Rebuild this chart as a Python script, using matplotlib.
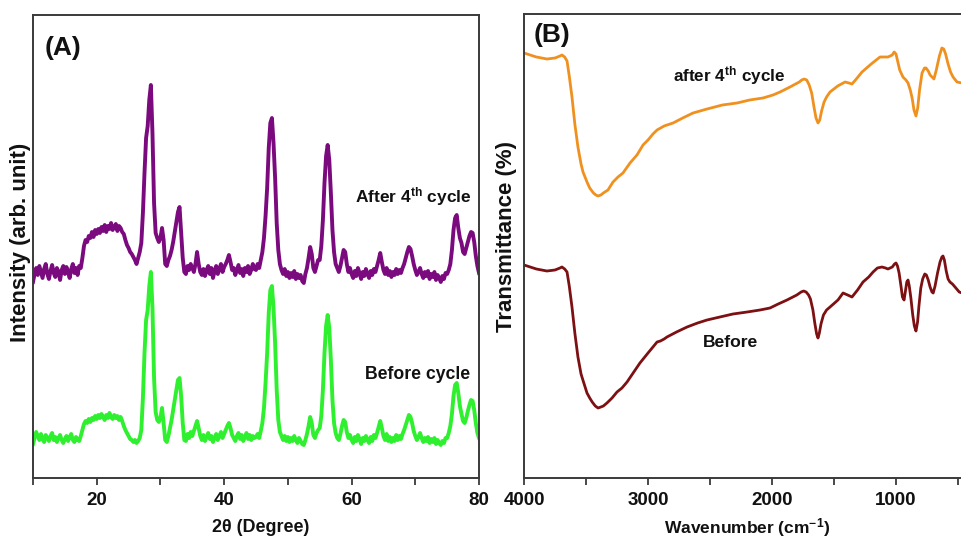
import numpy as np
import matplotlib
matplotlib.use("Agg")
import matplotlib.pyplot as plt

FONT = 'Liberation Sans'

plt.rcParams['mathtext.fontset'] = 'custom'
plt.rcParams['mathtext.rm'] = FONT + ':bold'
plt.rcParams['mathtext.it'] = FONT + ':bold'
plt.rcParams['mathtext.bf'] = FONT + ':bold'
plt.rcParams['mathtext.default'] = 'rm'

# ---------------- XRD data (panel A) ----------------
xrd_2theta = np.linspace(10, 80, 281)   # scan grid, 0.25 deg step
xrd_after = [
    196, 204, 210, 203, 212, 206, 200, 209, 214, 204, 199, 207, 213, 205, 201, 210, 206, 198, 208, 212,
    204, 211, 206, 200, 209, 214, 205, 210, 203, 212, 210, 220, 232, 238, 236, 242, 240, 246, 241, 248,
    244, 249, 245, 251, 247, 253, 246, 252, 249, 255, 248, 251, 254, 247, 252, 250, 246, 244, 238, 233,
    230, 226, 224, 221, 218, 214, 220, 226, 235, 265, 305, 340, 352, 378, 393, 345, 275, 245, 240, 236,
    240, 250, 238, 214, 212, 218, 222, 228, 236, 246, 256, 266, 271, 245, 220, 206, 204, 212, 208, 214,
    210, 206, 214, 226, 214, 206, 203, 209, 202, 208, 212, 204, 210, 200, 207, 212, 204, 209, 214, 206,
    211, 214, 218, 223, 216, 208, 210, 203, 208, 213, 205, 209, 202, 210, 206, 212, 204, 208, 214, 209,
    208, 214, 210, 218, 226, 240, 262, 290, 330, 355, 360, 335, 300, 255, 228, 214, 208, 204, 209, 202,
    206, 200, 205, 201, 207, 199, 204, 200, 203, 197, 195, 204, 210, 220, 231, 224, 210, 206, 212, 218,
    218, 232, 258, 295, 322, 333, 318, 285, 248, 226, 214, 210, 206, 212, 220, 228, 226, 214, 206, 210,
    204, 200, 207, 202, 210, 205, 199, 206, 202, 209, 204, 200, 207, 203, 209, 206, 212, 218, 225, 216,
    208, 204, 210, 203, 207, 201, 206, 203, 209, 204, 208, 205, 210, 214, 220, 226, 231, 229, 222, 214,
    208, 203, 206, 210, 204, 200, 206, 202, 207, 199, 204, 201, 206, 198, 203, 200, 196, 202, 199, 205,
    204, 208, 214, 228, 248, 260, 263, 250, 240, 235, 226, 224, 230, 236, 242, 246, 245, 236, 222, 212,
    205]
xrd_before = [
    34, 40, 46, 42, 38, 44, 39, 36, 43, 40, 37, 42, 45, 38, 41, 36, 40, 43, 38, 35,
    39, 42, 37, 41, 44, 38, 36, 41, 38, 37, 42, 48, 54, 57, 55, 59, 56, 60, 58, 62,
    59, 63, 60, 64, 61, 58, 63, 60, 65, 61, 59, 63, 60, 62, 58, 61, 57, 52, 48, 45,
    42, 39, 38, 36, 38, 35, 37, 40, 48, 80, 125, 158, 168, 192, 206, 170, 100, 66, 58, 56,
    60, 70, 55, 38, 36, 42, 50, 58, 68, 78, 88, 98, 100, 82, 55, 38, 37, 44, 40, 46,
    42, 47, 52, 57, 50, 42, 38, 43, 37, 41, 45, 39, 42, 36, 40, 44, 38, 42, 46, 40,
    44, 48, 52, 55, 50, 43, 40, 37, 42, 45, 39, 43, 37, 41, 45, 39, 43, 38, 42, 40,
    41, 44, 40, 47, 55, 70, 95, 125, 165, 188, 192, 170, 135, 88, 58, 46, 42, 38, 42, 37,
    41, 36, 40, 37, 42, 38, 35, 40, 37, 34, 33, 38, 44, 52, 61, 55, 43, 40, 45, 48,
    50, 62, 88, 125, 152, 163, 150, 118, 78, 55, 45, 40, 38, 44, 52, 58, 56, 46, 40, 43,
    38, 35, 41, 37, 43, 39, 34, 40, 37, 42, 38, 35, 41, 37, 43, 40, 45, 51, 57, 50,
    42, 38, 44, 37, 41, 36, 40, 37, 43, 38, 42, 39, 44, 48, 53, 58, 63, 61, 55, 47,
    42, 38, 41, 45, 40, 36, 40, 37, 41, 35, 39, 36, 40, 34, 38, 35, 33, 37, 35, 40,
    40, 45, 52, 64, 82, 93, 95, 85, 72, 64, 57, 55, 60, 67, 73, 78, 77, 68, 55, 45,
    40]
xrd_xticks = [10, 20, 30, 40, 50, 60, 70, 80]
xrd_xticklabels = ['', '20', '', '40', '', '60', '', '80']

# ---------------- FTIR data (panel B) ----------------
ftir_after = [
    (4000, 425), (3900, 421), (3815, 419), (3750, 420), (3710, 422), (3694, 423),
    (3672, 421), (3653, 417), (3635, 402), (3613, 381), (3590, 354), (3565, 331),
    (3540, 314), (3524, 306), (3492, 296), (3470, 290), (3440, 285), (3420, 283),
    (3403, 282), (3380, 283), (3360, 285), (3323, 288), (3282, 296), (3242, 301),
    (3202, 305), (3145, 315), (3089, 323), (3040, 333), (3000, 338), (2960, 344),
    (2927, 348), (2870, 352), (2798, 355), (2720, 360), (2637, 365), (2524, 369),
    (2400, 373), (2282, 375), (2180, 378), (2073, 380), (1992, 383), (1935, 386),
    (1855, 391), (1780, 396), (1760, 398), (1740, 399), (1720, 398), (1700, 393),
    (1680, 385), (1660, 370), (1645, 360), (1629, 355), (1615, 358), (1600, 367),
    (1580, 376), (1560, 381), (1532, 386), (1470, 392), (1411, 396), (1380, 395),
    (1355, 394), (1320, 399), (1274, 406), (1200, 414), (1129, 421), (1090, 421),
    (1065, 421), (1030, 423), (1015, 426), (1000, 424), (985, 416), (970, 408),
    (944, 401), (920, 398), (903, 395), (885, 388), (870, 380), (855, 368),
    (839, 362), (825, 370), (810, 388), (790, 405), (770, 410), (758, 410),
    (740, 407), (725, 403), (694, 399), (675, 408), (650, 422), (630, 430),
    (615, 429), (600, 424), (580, 414), (560, 406), (540, 401), (508, 396),
    (468, 395), (430, 395), (400, 395)]
ftir_before = [
    (4000, 213), (3900, 209), (3815, 207), (3750, 208), (3710, 210), (3694, 211),
    (3672, 209), (3653, 206), (3635, 192), (3613, 171), (3590, 145), (3565, 121),
    (3540, 104), (3520, 96), (3492, 85), (3470, 80), (3450, 76), (3425, 72),
    (3403, 70), (3380, 71), (3360, 72), (3331, 75), (3290, 80), (3250, 86),
    (3210, 90), (3169, 96), (3120, 105), (3065, 115), (3000, 125), (2960, 131),
    (2927, 136), (2900, 137), (2870, 139), (2847, 141), (2770, 146), (2685, 151),
    (2600, 155), (2524, 158), (2420, 161), (2315, 164), (2200, 166), (2097, 168),
    (2016, 170), (1950, 174), (1879, 178), (1800, 183), (1765, 186), (1745, 187),
    (1725, 186), (1705, 183), (1690, 179), (1670, 168), (1655, 155), (1640, 144),
    (1629, 140), (1618, 145), (1605, 154), (1585, 163), (1560, 168), (1532, 171),
    (1468, 178), (1427, 185), (1390, 183), (1355, 181), (1310, 188), (1266, 196),
    (1220, 201), (1185, 206), (1150, 210), (1113, 211), (1085, 210), (1065, 209),
    (1030, 211), (1012, 214), (1000, 215), (988, 212), (975, 205), (960, 192),
    (948, 181), (935, 178), (925, 186), (913, 196), (903, 198), (893, 192),
    (880, 180), (865, 163), (852, 152), (839, 147), (826, 156), (815, 172),
    (800, 190), (785, 199), (768, 204), (755, 203), (740, 198), (725, 191),
    (710, 186), (700, 185), (685, 192), (665, 205), (645, 216), (630, 221),
    (621, 222), (610, 218), (595, 207), (580, 199), (565, 196), (545, 194),
    (524, 191), (490, 186), (468, 185), (430, 185), (400, 185)]
ftir_xticks = [4000, 3500, 3000, 2500, 2000, 1500, 1000, 500]
ftir_xticklabels = ['4000', '', '3000', '', '2000', '', '1000', '']

# ---------------- figure ----------------
W, H = 962, 540
fig = plt.figure(figsize=(W / 100, H / 100), dpi=100)

def fx(px):
    return px / W

def fy(py):
    return (H - py) / H

SPINE = '#3a3a3a'
TXT = '#111111'

axA = fig.add_axes([fx(33), fy(478), fx(479) - fx(33), fy(15) - fy(478)])
axB = fig.add_axes([fx(524), fy(478), 3600 * 0.124 / W, fy(14) - fy(478)])

axA.plot(xrd_2theta, xrd_after, color='#7a0a7e', lw=2.8, solid_joinstyle='round')
axA.plot(xrd_2theta, xrd_before, color='#2ef02e', lw=2.8, solid_joinstyle='round')
axA.set_xlim(10, 80)
axA.set_ylim(0, 463)
axA.set_xticks(xrd_xticks)
axA.set_xticklabels(xrd_xticklabels)

wb, tb = zip(*ftir_before)
wa, ta = zip(*ftir_after)
axB.plot(wa, ta, color='#f0911f', lw=2.0, solid_joinstyle='round')
axB.plot(wb, tb, color='#7c1012', lw=2.0, solid_joinstyle='round')
axB.set_xlim(4000, 400)
axB.set_ylim(0, 464)
axB.set_xticks(ftir_xticks)
axB.set_xticklabels(ftir_xticklabels)

for ax in (axA, axB):
    ax.set_yticks([])
    for s in ax.spines.values():
        s.set_color(SPINE)
        s.set_linewidth(1.4)
    ax.tick_params(axis='x', direction='out', length=5, width=1.3, color=SPINE, pad=5)
    for lab in ax.get_xticklabels():
        lab.set_fontfamily(FONT)
        lab.set_fontweight('bold')
        lab.set_fontsize(13.5)
        lab.set_color(TXT)

# panel tags
fig.text(fx(63), fy(48), '(A)', family=FONT, weight='bold', fontsize=19,
         ha='center', va='center', color=TXT)
fig.text(fx(552), fy(35), '(B)', family=FONT, weight='bold', fontsize=19,
         ha='center', va='center', color=TXT)

# axis labels
fig.text(fx(21), fy(242), 'Intensity (arb. unit)', family=FONT, weight='bold',
         fontsize=16, rotation=90, ha='center', va='center', color=TXT)
fig.text(fx(261), fy(528), '2θ (Degree)', family=FONT, weight='bold',
         fontsize=13, ha='center', va='center', color=TXT)
fig.text(fx(507), fy(237), 'Transmittance (%)', family=FONT, weight='bold',
         fontsize=16, rotation=90, ha='center', va='center', color=TXT)
fig.text(fx(747), fy(528), 'Wavenumber (cm$^{-1}$)', family=FONT, weight='bold',
         fontsize=12.5, ha='center', va='center', color=TXT)

# curve annotations
fig.text(fx(472), fy(202), 'After 4$^{th}$ cycle', family=FONT, weight='bold',
         fontsize=12.5, ha='right', va='baseline', color=TXT)
fig.text(fx(470), fy(379), 'Before cycle', family=FONT, weight='bold',
         fontsize=12.7, ha='right', va='baseline', color=TXT)
fig.text(fx(673), fy(81), 'after 4$^{th}$ cycle', family=FONT, weight='bold',
         fontsize=12.3, ha='left', va='baseline', color=TXT)
fig.text(fx(703), fy(347), 'Before', family=FONT, weight='bold',
         fontsize=12.6, ha='left', va='baseline', color=TXT)

fig.savefig('out.png', dpi=100)
